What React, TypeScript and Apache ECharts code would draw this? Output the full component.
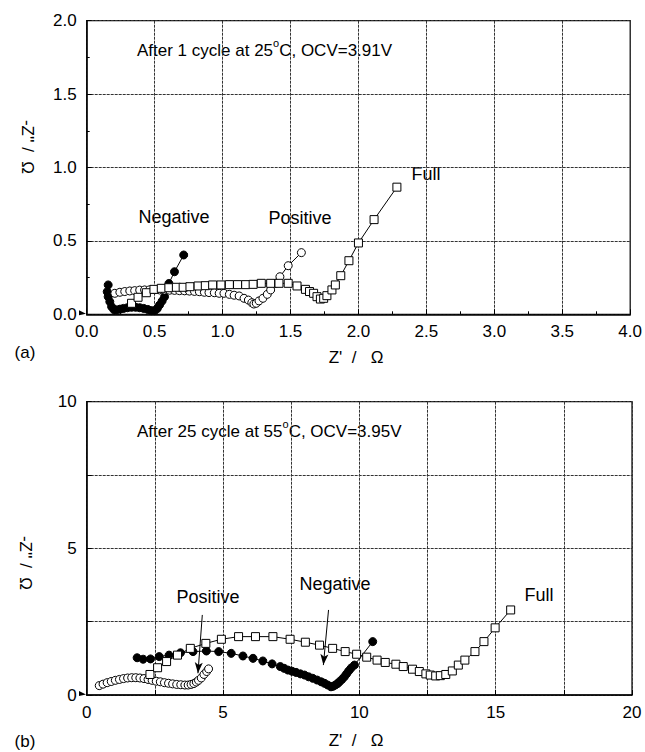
import React, { useEffect, useRef } from "react";
import * as echarts from "echarts";

// Panel (a): after 1 cycle at 25 °C — [Z', -Z''] in ohm
const negA: [number, number][] = [
  [0.158, 0.2], [0.151, 0.154], [0.158, 0.12], [0.17, 0.086], [0.183, 0.052],
  [0.2, 0.032], [0.22, 0.03], [0.245, 0.035], [0.27, 0.04], [0.3, 0.045],
  [0.33, 0.048], [0.36, 0.048], [0.39, 0.045], [0.42, 0.04], [0.45, 0.033],
  [0.475, 0.025], [0.5, 0.025], [0.52, 0.04], [0.536, 0.063], [0.555, 0.09],
  [0.573, 0.12], [0.605, 0.21], [0.646, 0.29], [0.714, 0.404],
];
const posA: [number, number][] = [
  [0.207, 0.143], [0.244, 0.15], [0.28, 0.155], [0.317, 0.159], [0.353, 0.161],
  [0.39, 0.165], [0.426, 0.166], [0.463, 0.167], [0.5, 0.167], [0.536, 0.166],
  [0.573, 0.165], [0.61, 0.164], [0.646, 0.163], [0.683, 0.161], [0.72, 0.16],
  [0.756, 0.158], [0.793, 0.156], [0.829, 0.154], [0.866, 0.15], [0.9, 0.148],
  [0.939, 0.147], [0.975, 0.143], [1.01, 0.143], [1.05, 0.136], [1.085, 0.13],
  [1.122, 0.125], [1.158, 0.109], [1.19, 0.097], [1.215, 0.079], [1.23, 0.07],
  [1.248, 0.075], [1.268, 0.091], [1.297, 0.109], [1.329, 0.136], [1.354, 0.166],
  [1.39, 0.211], [1.422, 0.256], [1.483, 0.331], [1.58, 0.42],
];
const fullA: [number, number][] = [
  [0.33, 0.075], [0.378, 0.116], [0.439, 0.147], [0.495, 0.17], [0.549, 0.177],
  [0.605, 0.181], [0.66, 0.184], [0.71, 0.184], [0.76, 0.188], [0.82, 0.193],
  [0.873, 0.195], [0.927, 0.2], [0.988, 0.2], [1.05, 0.202], [1.11, 0.202],
  [1.17, 0.202], [1.225, 0.204], [1.285, 0.211], [1.354, 0.211], [1.415, 0.211],
  [1.483, 0.211], [1.548, 0.193], [1.61, 0.17], [1.64, 0.155], [1.67, 0.143],
  [1.695, 0.12], [1.72, 0.104], [1.744, 0.109], [1.768, 0.127], [1.805, 0.166],
  [1.83, 0.2], [1.87, 0.263], [1.93, 0.365], [2.0, 0.486], [2.115, 0.645],
  [2.283, 0.866],
];

// Panel (b): after 25 cycles at 55 °C
const negB: [number, number][] = [
  [1.85, 1.27], [2.07, 1.22], [2.34, 1.23], [2.66, 1.31], [3.02, 1.36],
  [3.44, 1.44], [3.9, 1.48], [4.39, 1.5], [4.84, 1.48], [5.3, 1.42],
  [5.73, 1.33], [6.1, 1.25], [6.46, 1.16], [6.8, 1.06], [7.1, 0.97],
  [7.24, 0.91], [7.38, 0.85], [7.53, 0.81], [7.68, 0.77], [7.84, 0.72],
  [7.99, 0.68], [8.14, 0.62], [8.29, 0.57], [8.45, 0.51], [8.6, 0.45],
  [8.72, 0.4], [8.84, 0.34], [8.96, 0.28], [9.04, 0.3], [9.12, 0.34],
  [9.2, 0.39], [9.27, 0.45], [9.36, 0.53], [9.45, 0.62], [9.53, 0.72],
  [9.61, 0.82], [9.7, 0.92], [9.82, 1.02], [10.49, 1.82],
];
const posB: [number, number][] = [
  [0.46, 0.32], [0.6, 0.37], [0.75, 0.42], [0.9, 0.46], [1.05, 0.5],
  [1.2, 0.53], [1.35, 0.56], [1.5, 0.58], [1.65, 0.59], [1.8, 0.59],
  [1.95, 0.58], [2.1, 0.56], [2.25, 0.53], [2.4, 0.5], [2.55, 0.47],
  [2.7, 0.45], [2.85, 0.42], [3.0, 0.4], [3.15, 0.38], [3.3, 0.36],
  [3.45, 0.35], [3.6, 0.34], [3.72, 0.34], [3.83, 0.36], [3.93, 0.39],
  [4.02, 0.44], [4.1, 0.5], [4.2, 0.58], [4.3, 0.7], [4.4, 0.8], [4.47, 0.89],
];
const fullB: [number, number][] = [
  [2.32, 0.7], [2.6, 0.93], [2.93, 1.14], [3.33, 1.36], [3.8, 1.59],
  [4.37, 1.76], [4.94, 1.9], [5.57, 1.99], [6.19, 1.99], [6.83, 1.99],
  [7.46, 1.9], [8.02, 1.8], [8.54, 1.7], [9.02, 1.59], [9.48, 1.48],
  [9.9, 1.39], [10.27, 1.29], [10.65, 1.19], [10.95, 1.11], [11.34, 1.05],
  [11.61, 0.97], [11.95, 0.88], [12.2, 0.8], [12.44, 0.72], [12.6, 0.68],
  [12.8, 0.65], [12.97, 0.66], [13.17, 0.7], [13.41, 0.82], [13.63, 1.02],
  [13.87, 1.19], [14.24, 1.48], [14.57, 1.82], [14.98, 2.29], [15.55, 2.9],
];

// Arrows pointing from the bottom labels to the curves
const arrowPositiveB: [number, number][] = [[4.24, 2.73], [4.08, 0.74]];
const arrowNegativeB: [number, number][] = [[8.87, 2.9], [8.68, 1.02]];

const FONT = "'Liberation Sans', Arial, sans-serif";

const gridLine = { show: true, lineStyle: { color: "#333", width: 1, type: [3, 1] as number[] } };
const axisLineStyle = { show: true, onZero: false, lineStyle: { color: "#000", width: 1.5 } };
const tickStyle = { show: true, inside: true, length: 5, lineStyle: { color: "#000", width: 1 } };
const labelStyle = { color: "#000", fontSize: 17, fontFamily: FONT };

function seriesFor(data: [number, number][], kind: "neg" | "pos" | "full", idx: number, extra: any = {}) {
  const filled = kind === "neg";
  return {
    type: "line",
    xAxisIndex: idx,
    yAxisIndex: idx,
    data,
    symbol: kind === "full" ? "rect" : "circle",
    symbolSize: 8,
    showSymbol: true,
    showAllSymbol: true,
    lineStyle: { color: "#000", width: 1 },
    itemStyle: filled
      ? { color: "#000", borderColor: "#000", borderWidth: 1 }
      : { color: "#fff", borderColor: "#000", borderWidth: 1 },
    z: kind === "neg" ? 2 : kind === "pos" ? 3 : 4,
    silent: true,
    ...extra,
  };
}

function txt(text: string, x: number, y: number, size = 18, extra: any = {}) {
  return {
    type: "text",
    x,
    y,
    style: {
      text,
      fill: "#000",
      font: `${size}px ${FONT}`,
      align: "center",
      verticalAlign: "middle",
      ...extra,
    },
    silent: true,
  };
}

function headline(text: string, x: number, y: number) {
  return {
    type: "text",
    x,
    y,
    style: {
      text,
      fill: "#000",
      fontSize: 17,
      fontFamily: FONT,
      align: "left",
      verticalAlign: "middle",
      lineHeight: 25,
      rich: {
        t: { fontSize: 17, fontFamily: FONT, lineHeight: 25 },
        s: { fontSize: 11, fontFamily: FONT, verticalAlign: "top", lineHeight: 11 },
      },
    },
    silent: true,
  };
}

function originMark(y: number) {
  return {
    type: "polygon",
    shape: { points: [[79, y - 4], [86, y - 0.5], [79, y + 1]] },
    style: { fill: "#000" },
    silent: true,
  };
}

export default function App() {
  const ref = useRef<HTMLDivElement>(null);

  useEffect(() => {
    if (!ref.current) return;
    const chart = echarts.init(ref.current, undefined, { renderer: "svg" });

    const option: any = {
      animation: false,
      backgroundColor: "#fff",
      grid: [
        { left: 86.7, top: 20.7, width: 545.3, height: 293.6, show: true, borderColor: "#000", borderWidth: 1.2, containLabel: false },
        { left: 86.7, top: 401.7, width: 545.3, height: 293.3, show: true, borderColor: "#000", borderWidth: 1.2, containLabel: false },
      ],
      xAxis: [
        {
          gridIndex: 0, type: "value", min: 0, max: 4, interval: 0.5,
          axisLine: axisLineStyle, axisTick: tickStyle,
          minorTick: { show: true, splitNumber: 2, length: 3, lineStyle: { color: "#000" } },
          splitLine: gridLine,
          axisLabel: { ...labelStyle, margin: 9, formatter: (v: number) => v.toFixed(1) },
        },
        {
          gridIndex: 1, type: "value", min: 0, max: 20, interval: 2.5,
          axisLine: axisLineStyle, axisTick: tickStyle,
          splitLine: gridLine,
          axisLabel: {
            ...labelStyle, margin: 9,
            formatter: (v: number) => (Math.abs(v % 5) < 1e-9 ? String(v) : ""),
          },
        },
      ],
      yAxis: [
        {
          gridIndex: 0, type: "value", min: 0, max: 2, interval: 0.5,
          axisLine: axisLineStyle, axisTick: tickStyle,
          minorTick: { show: true, splitNumber: 2, length: 3, lineStyle: { color: "#000" } },
          splitLine: gridLine,
          axisLabel: { ...labelStyle, margin: 10, formatter: (v: number) => v.toFixed(1) },
        },
        {
          gridIndex: 1, type: "value", min: 0, max: 10, interval: 2.5,
          axisLine: axisLineStyle, axisTick: tickStyle,
          splitLine: gridLine,
          axisLabel: {
            ...labelStyle, margin: 10,
            formatter: (v: number) => (Math.abs(v % 5) < 1e-9 ? String(v) : ""),
          },
        },
      ],
      series: [
        seriesFor(negA, "neg", 0),
        seriesFor(posA, "pos", 0),
        seriesFor(fullA, "full", 0),
        seriesFor(negB, "neg", 1, {
          markLine: {
            silent: true,
            symbol: ["none", "arrow"],
            symbolSize: [6, 11],
            label: { show: false },
            lineStyle: { color: "#000", width: 1, type: "solid" },
            data: [
              [{ coord: arrowPositiveB[0] }, { coord: arrowPositiveB[1] }],
              [{ coord: arrowNegativeB[0] }, { coord: arrowNegativeB[1] }],
            ],
          },
        }),
        seriesFor(posB, "pos", 1),
        seriesFor(fullB, "full", 1),
      ],
      graphic: [
        headline("{t|After 1 cycle at 25}{s|o}{t|C, OCV=3.91V}", 137, 50),
        headline("{t|After 25 cycle at 55}{s|o}{t|C, OCV=3.95V}", 137, 431),
        txt("Negative", 174, 217),
        txt("Positive", 300, 218),
        txt("Full", 426, 174),
        txt("Positive", 208, 597),
        txt("Negative", 335, 584),
        txt("Full", 539, 595),
        txt("Z'  /   Ω", 356, 357, 17),
        txt("Z'  /   Ω", 356, 740, 17),
        { ...txt("-Z'' /  Ω", 27, 147, 17), rotation: -Math.PI / 2 },
        { ...txt("-Z'' /  Ω", 25, 563, 17), rotation: -Math.PI / 2 },
        txt("(a)", 25, 352, 17),
        txt("(b)", 25, 741, 17),
        originMark(314.3),
        originMark(695),
      ],
    };

    chart.setOption(option);
    return () => chart.dispose();
  }, []);

  return (
    <div
      ref={ref}
      style={{ position: "absolute", left: 0, top: 0, width: 645, height: 752 }}
    />
  );
}
